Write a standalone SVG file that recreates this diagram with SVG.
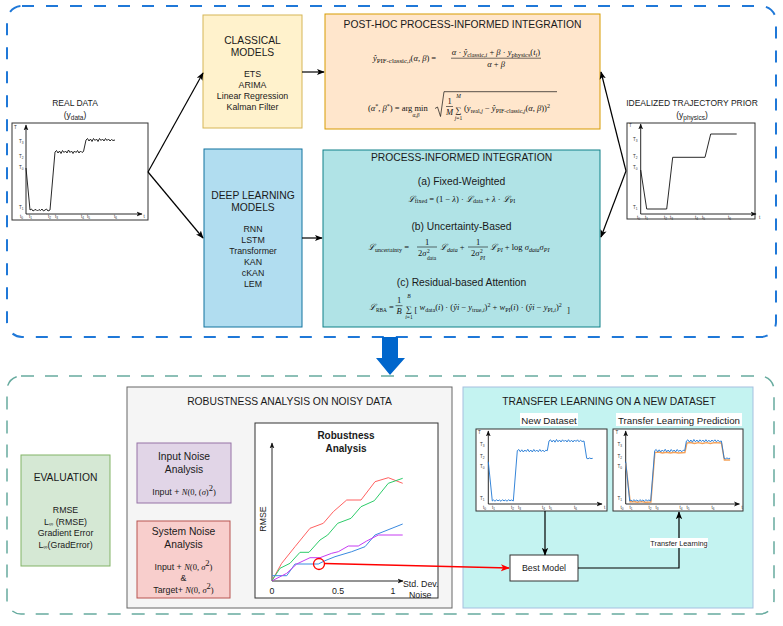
<svg xmlns="http://www.w3.org/2000/svg" width="783" height="626" viewBox="0 0 783 626">
<style>
.t{font-family:"Liberation Sans",Arial,sans-serif;fill:#1a1a1a}
.h{font-size:10.3px}
.l{font-size:8.8px}
.c{text-anchor:middle}
.m{font-family:"Liberation Serif","DejaVu Serif",serif;font-size:8.5px;fill:#111}
.i{font-style:italic}
.s{font-size:6px}
.ss{font-size:5.5px}
.tk{font-family:"Liberation Sans",Arial,sans-serif;font-size:4.5px;fill:#333}
.tks{font-size:3.2px}
.conn{fill:none;stroke:#000;stroke-width:1.2}
.ax{fill:none;stroke:#111;stroke-width:0.9}
.pbox{fill:#fff;stroke:#333;stroke-width:1}
</style>
<defs>
<marker id="ah" viewBox="0 0 10 10" refX="9" refY="5" markerWidth="8" markerHeight="8" orient="auto" markerUnits="userSpaceOnUse"><path d="M0,1 L10,5 L0,9 L2.5,5 z" fill="#000"/></marker>
<marker id="ahs" viewBox="0 0 10 10" refX="9" refY="5" markerWidth="6" markerHeight="6" orient="auto" markerUnits="userSpaceOnUse"><path d="M0,1 L10,5 L0,9 L2.5,5 z" fill="#111"/></marker>
<marker id="ahr" viewBox="0 0 10 10" refX="9" refY="5" markerWidth="9" markerHeight="9" orient="auto" markerUnits="userSpaceOnUse"><path d="M0,1 L10,5 L0,9 L2.5,5 z" fill="#f00"/></marker>
</defs>

<!-- outer dashed containers -->
<rect x="7" y="6" width="769" height="331" rx="15" fill="none" stroke="#1f78d8" stroke-width="2" stroke-dasharray="12 12"/>
<rect x="7" y="376" width="767" height="238" rx="14" fill="none" stroke="#67ab9f" stroke-width="1.5" stroke-dasharray="13 11"/>

<!-- big arrow -->
<polygon points="382,337 398,337 398,358 405,358 390,375 376,358 382,358" fill="#0066cc"/>

<!-- REAL DATA -->
<g id="real-data">
<text class="t c" x="75" y="106" font-size="8.5">REAL DATA</text>
<text class="t c" x="75" y="118" font-size="8.5">(y<tspan font-size="6.5" dy="2">data</tspan><tspan dy="-2">)</tspan></text>
<rect class="pbox" x="12" y="123" width="136" height="97"/>
<line class="ax" x1="26" y1="214" x2="26" y2="125" marker-end="url(#ahs)"/>
<line class="ax" x1="26" y1="214" x2="142" y2="214" marker-end="url(#ahs)"/>
<polyline fill="none" stroke="#111" stroke-width="0.9" points="26,168 30,210 31.5,209 33,211 34.5,210 36,209.5 37.5,211 39,209.5 40.5,210.5 42,209 43.5,211 45,210 46.5,209 48,211 50,210 55,152 56.5,150.5 58,153 59.5,151 61,153.5 62.5,150.5 64,152.5 65.5,151 67,153 68.5,150 70,152.5 71.5,151 73,153.5 74.5,151 76,152.5 77.5,150.5 79,153 80.5,151 82,152.5 83.5,151.5 86,140 87.5,138.5 89,141 90.5,139 92,141.5 93.5,138.5 95,140.5 96.5,139 98,141.5 99.5,138.5 101,140.5 102.5,139 104,141 105.5,138.5 107,140.5 108.5,139 110,141 111.5,139.5 113,140.5 115,140"/>
<text class="tk" x="14" y="129">T</text>
<text class="tk" x="19" y="143">T<tspan class="tks" dy="1">3</tspan></text>
<text class="tk" x="19" y="158">T<tspan class="tks" dy="1">2</tspan></text>
<text class="tk" x="19" y="169">T<tspan class="tks" dy="1">0</tspan></text>
<text class="tk" x="19" y="209">T<tspan class="tks" dy="1">1</tspan></text>
<text class="tk" x="20" y="218">t<tspan class="tks" dy="1">0</tspan></text>
<text class="tk" x="29" y="218">t<tspan class="tks" dy="1">1</tspan></text>
<text class="tk" x="48" y="218">t<tspan class="tks" dy="1">2</tspan></text>
<text class="tk" x="55" y="218">t<tspan class="tks" dy="1">3</tspan></text>
<text class="tk" x="81" y="218">t<tspan class="tks" dy="1">4</tspan></text>
<text class="tk" x="87" y="218">t<tspan class="tks" dy="1">5</tspan></text>
<text class="tk" x="114" y="218">t<tspan class="tks" dy="1">6</tspan></text>
<text class="tk" x="143.5" y="218">t</text>
</g>

<!-- IDEALIZED -->
<g id="idealized-prior">
<text class="t c" x="692" y="106" font-size="8.5">IDEALIZED TRAJECTORY PRIOR</text>
<text class="t c" x="692" y="118" font-size="8.5">(y<tspan font-size="6.5" dy="2">physics</tspan><tspan dy="-2">)</tspan></text>
<rect class="pbox" x="627" y="123" width="128" height="96"/>
<line class="ax" x1="640.7" y1="214" x2="640.7" y2="124" marker-end="url(#ahs)"/>
<line class="ax" x1="640.7" y1="214" x2="756" y2="214" marker-end="url(#ahs)"/>
<polyline fill="none" stroke="#111" stroke-width="0.9" points="640.7,170 646.7,209 666.7,209 672.7,157.3 705,157.3 710.7,134 736.7,134"/>
<text class="tk" x="629" y="127">T</text>
<text class="tk" x="633" y="141">T<tspan class="tks" dy="1">3</tspan></text>
<text class="tk" x="633" y="158">T<tspan class="tks" dy="1">2</tspan></text>
<text class="tk" x="633" y="169">T<tspan class="tks" dy="1">0</tspan></text>
<text class="tk" x="633" y="209">T<tspan class="tks" dy="1">1</tspan></text>
<text class="tk" x="637" y="219">t<tspan class="tks" dy="1">0</tspan></text>
<text class="tk" x="645" y="219">t<tspan class="tks" dy="1">1</tspan></text>
<text class="tk" x="664" y="219">t<tspan class="tks" dy="1">2</tspan></text>
<text class="tk" x="670" y="219">t<tspan class="tks" dy="1">3</tspan></text>
<text class="tk" x="695" y="219">t<tspan class="tks" dy="1">4</tspan></text>
<text class="tk" x="702" y="219">t<tspan class="tks" dy="1">5</tspan></text>
<text class="tk" x="728" y="219">t<tspan class="tks" dy="1">6</tspan></text>
<text class="tk" x="759" y="219">t</text>
</g>

<!-- CLASSICAL -->
<g id="classical-models">
<rect x="203" y="15" width="99" height="113" fill="#fff2cc" stroke="#d6b656"/>
<text class="t h c" x="252.5" y="44">CLASSICAL</text>
<text class="t h c" x="252.5" y="56">MODELS</text>
<text class="t l c" x="252.5" y="77">ETS</text>
<text class="t l c" x="252.5" y="88">ARIMA</text>
<text class="t l c" x="252.5" y="99">Linear Regression</text>
<text class="t l c" x="252.5" y="110">Kalman Filter</text>
</g>

<!-- DEEP LEARNING -->
<g id="deep-learning-models">
<rect x="204" y="149" width="98" height="178" fill="#b1ddf0" stroke="#10739e"/>
<text class="t h c" x="253" y="199">DEEP LEARNING</text>
<text class="t h c" x="253" y="211">MODELS</text>
<text class="t l c" x="253" y="232">RNN</text>
<text class="t l c" x="253" y="243">LSTM</text>
<text class="t l c" x="253" y="254">Transformer</text>
<text class="t l c" x="253" y="265">KAN</text>
<text class="t l c" x="253" y="276">cKAN</text>
<text class="t l c" x="253" y="287">LEM</text>
</g>

<!-- POST-HOC -->
<g id="post-hoc-pif">
<rect x="325" y="14" width="275" height="115" fill="#ffe6cc" stroke="#d79b00"/>
<text class="t h c" x="462.5" y="28">POST-HOC PROCESS-INFORMED INTEGRATION</text>
<text class="m" x="373" y="61" font-size="9.3"><tspan class="i">ŷ</tspan><tspan font-size="6.8" dy="1.8">PIF-classic,<tspan class="i">i</tspan></tspan><tspan dy="-1.8">(</tspan><tspan class="i">α</tspan>, <tspan class="i">β</tspan>) =</text>
<text class="m c" x="496" y="55" font-size="9"><tspan class="i">α</tspan> · <tspan class="i">ŷ</tspan><tspan font-size="6.3" dy="1.8">classic,<tspan class="i">i</tspan></tspan><tspan dy="-1.8"> + </tspan><tspan class="i">β</tspan> · <tspan class="i">y</tspan><tspan font-size="6.3" dy="1.8">physics</tspan><tspan dy="-1.8">(</tspan><tspan class="i">t</tspan><tspan font-size="6.3" class="i" dy="1.8">i</tspan><tspan dy="-1.8">)</tspan></text>
<line x1="451" y1="58.2" x2="541" y2="58.2" stroke="#111" stroke-width="0.6"/>
<text class="m c" x="496" y="67" font-size="9"><tspan class="i">α</tspan> + <tspan class="i">β</tspan></text>
<text class="m" x="368" y="111">(<tspan class="i">α</tspan><tspan class="s" dy="-3">*</tspan><tspan dy="3">, </tspan><tspan class="i">β</tspan><tspan class="s" dy="-3">*</tspan><tspan dy="3">) = arg min</tspan></text>
<text class="m ss c i" x="416" y="117">α,β</text>
<polyline points="435,108.5 437.5,107 440.5,116.5 444,91.7 557,91.7" fill="none" stroke="#111" stroke-width="0.7"/>
<text class="m c" x="449.5" y="104">1</text>
<line x1="446" y1="106.5" x2="453" y2="106.5" stroke="#111" stroke-width="0.6"/>
<text class="m c i" x="449.5" y="115">M</text>
<text class="m c" x="458.5" y="113" font-size="13">∑</text>
<text class="m ss c i" x="458.5" y="98">M</text>
<text class="m ss c" x="458.5" y="120"><tspan class="i">j</tspan>=1</text>
<text class="m" x="464" y="111">(<tspan class="i">y</tspan><tspan class="s" dy="1.8">real,<tspan class="i">j</tspan></tspan><tspan dy="-1.8"> − </tspan><tspan class="i">ŷ</tspan><tspan class="s" dy="1.8">PIF-classic,<tspan class="i">j</tspan></tspan><tspan dy="-1.8">(</tspan><tspan class="i">α</tspan>, <tspan class="i">β</tspan>))<tspan class="s" dy="-3.5">2</tspan></text>
</g>

<!-- PROCESS-INFORMED -->
<g id="process-informed">
<rect x="323" y="150" width="277" height="177" fill="#b0e3e6" stroke="#0e8088"/>
<text class="t h c" x="461.5" y="161">PROCESS-INFORMED INTEGRATION</text>
<text class="t h c" x="461.5" y="185">(a) Fixed-Weighted</text>
<text class="m c" x="461.5" y="201.5"><tspan class="i">ℒ</tspan><tspan class="s" dy="1.8">fixed</tspan><tspan dy="-1.8"> = (1 − </tspan><tspan class="i">λ</tspan>) · <tspan class="i">ℒ</tspan><tspan class="s" dy="1.8">data</tspan><tspan dy="-1.8"> + </tspan><tspan class="i">λ</tspan> · <tspan class="i">ℒ</tspan><tspan class="s" dy="1.8">PI</tspan></text>
<text class="t h c" x="461.5" y="230">(b) Uncertainty-Based</text>
<text class="m" x="368" y="250"><tspan class="i">ℒ</tspan><tspan class="s" dy="1.8">uncertainty</tspan><tspan dy="-1.8"> =</tspan></text>
<text class="m c" x="427" y="244.5">1</text>
<line x1="417" y1="247" x2="437" y2="247" stroke="#111" stroke-width="0.6"/>
<text class="m" x="418" y="256">2<tspan class="i">σ</tspan></text>
<text class="m ss" x="427" y="253">2</text>
<text class="m ss" x="427" y="259.5">data</text>
<text class="m" x="440" y="250"><tspan class="i">ℒ</tspan><tspan class="s i" dy="1.8">data</tspan><tspan dy="-1.8"> +</tspan></text>
<text class="m c" x="478" y="244.5">1</text>
<line x1="468" y1="247" x2="488" y2="247" stroke="#111" stroke-width="0.6"/>
<text class="m" x="471" y="256">2<tspan class="i">σ</tspan></text>
<text class="m ss" x="480" y="253">2</text>
<text class="m ss i" x="480" y="259.5">PI</text>
<text class="m" x="490" y="250"><tspan class="i">ℒ</tspan><tspan class="s i" dy="1.8">PI</tspan><tspan dy="-1.8"> + log </tspan><tspan class="i">σ</tspan><tspan class="s i" dy="1.8">data</tspan><tspan class="i" dy="-1.8">σ</tspan><tspan class="s i" dy="1.8">PI</tspan></text>
<text class="t h c" x="461.5" y="286">(c) Residual-based Attention</text>
<text class="m" x="369" y="310"><tspan class="i">ℒ</tspan><tspan font-size="5.3" dy="1.8">RBA</tspan><tspan dy="-1.8"> =</tspan></text>
<text class="m c" x="399" y="303">1</text>
<line x1="395.5" y1="305.7" x2="402.5" y2="305.7" stroke="#111" stroke-width="0.6"/>
<text class="m c i" x="399" y="314">B</text>
<text class="m c" x="409" y="312" font-size="13">∑</text>
<text class="m ss c i" x="409" y="298">B</text>
<text class="m ss c" x="409" y="319"><tspan class="i">i</tspan>=1</text>
<text class="m" x="414.5" y="313" font-size="14">[</text>
<text class="m" x="419.5" y="310"><tspan class="i">w</tspan><tspan class="s" dy="1.8">data</tspan><tspan dy="-1.8">(</tspan><tspan class="i">i</tspan>) · (<tspan class="i">ŷi</tspan> − <tspan class="i">y</tspan><tspan class="s" dy="1.8">true,<tspan class="i">i</tspan></tspan><tspan dy="-1.8">)</tspan><tspan class="s" dy="-3.5">2</tspan><tspan dy="3.5"> + </tspan><tspan class="i">w</tspan><tspan class="s" dy="1.8">PI</tspan><tspan dy="-1.8">(</tspan><tspan class="i">i</tspan>) · (<tspan class="i">ŷi</tspan> − <tspan class="i">y</tspan><tspan class="s" dy="1.8">PI,<tspan class="i">i</tspan></tspan><tspan dy="-1.8">)</tspan><tspan class="s" dy="-3.5">2</tspan></text>
<text class="m" x="567" y="313" font-size="14">]</text>
</g>

<!-- EVALUATION -->
<g id="evaluation">
<rect x="21" y="455" width="89" height="111" fill="#d5e8d4" stroke="#82b366"/>
<text class="t h c" x="65.5" y="481">EVALUATION</text>
<text class="t l c" x="65.5" y="513">RMSE</text>
<text class="t l c" x="65.5" y="524.5">L<tspan font-size="6" dy="1.5">∞</tspan><tspan dy="-1.5"> (RMSE)</tspan></text>
<text class="t l c" x="65.5" y="536">Gradient Error</text>
<text class="t l c" x="65.5" y="547.5">L<tspan font-size="6" dy="1.5">∞</tspan><tspan dy="-1.5">(GradError)</tspan></text>
</g>

<!-- ROBUSTNESS -->
<g id="robustness-analysis">
<rect x="127" y="387" width="325" height="221" fill="#f5f5f5" stroke="#666"/>
<text class="t h c" x="289.5" y="405">ROBUSTNESS ANALYSIS ON NOISY DATA</text>
</g>
<g id="input-noise">
<rect x="137" y="443" width="94" height="60" fill="#e1d5e7" stroke="#9673a6"/>
<text class="t h c" x="184" y="460">Input Noise</text>
<text class="t h c" x="184" y="473">Analysis</text>
<text class="t l c" x="184" y="495">Input + <tspan class="m i" font-size="10">N</tspan><tspan class="m" font-size="10">(0, (</tspan><tspan class="m i" font-size="10">σ</tspan><tspan class="m" font-size="10">)</tspan><tspan class="m" font-size="6.5" dy="-4">2</tspan><tspan class="m" font-size="10" dy="4">)</tspan></text>
</g>
<g id="system-noise">
<rect x="137" y="521" width="93" height="77" fill="#f8cecc" stroke="#b85450"/>
<text class="t h c" x="183.5" y="535">System Noise</text>
<text class="t h c" x="183.5" y="548">Analysis</text>
<text class="t l c" x="183.5" y="570">Input + <tspan class="m i" font-size="10">N</tspan><tspan class="m" font-size="10">(0, </tspan><tspan class="m i" font-size="10">σ</tspan><tspan class="m" font-size="6.5" dy="-4">2</tspan><tspan class="m" font-size="10" dy="4">)</tspan></text>
<text class="t l c" x="183.5" y="581">&amp;</text>
<text class="t l c" x="183.5" y="593">Target+ <tspan class="m i" font-size="10">N</tspan><tspan class="m" font-size="10">(0, </tspan><tspan class="m i" font-size="10">σ</tspan><tspan class="m" font-size="6.5" dy="-4">2</tspan><tspan class="m" font-size="10" dy="4">)</tspan></text>
</g>
<g id="robustness-plot">
<rect x="255" y="423" width="183" height="175" fill="#fff" stroke="#333"/>
<text class="t c" x="346" y="439" font-size="10" font-weight="bold">Robustness</text>
<text class="t c" x="346" y="452" font-size="10" font-weight="bold">Analysis</text>
<line class="ax" x1="272" y1="581" x2="272" y2="443" marker-end="url(#ahs)"/>
<line class="ax" x1="272" y1="581" x2="403" y2="581" marker-end="url(#ahs)"/>
<text class="t l c" transform="translate(266,519) rotate(-90)">RMSE</text>
<text class="t l c" x="272" y="594">0</text>
<text class="t l c" x="338" y="594">0.5</text>
<text class="t l c" x="393" y="594">1</text>
<text class="t l" x="403" y="587">Std. Dev.</text>
<text class="t l" x="409" y="598">Noise</text>
<polyline fill="none" stroke="#ff6161" stroke-width="1" points="272.3,580 281.7,563.3 295,546.7 310,528.3 323.3,523.3 333.3,511.7 346.7,500 361,500 375,481.7 388.3,477.7 402.7,483.3"/>
<polyline fill="none" stroke="#2ecc6a" stroke-width="1" points="272.3,580 280,568.3 290,563.3 300,552.3 309,552.3 320,540 327.7,535 337.7,523.3 351,518.3 361,506.7 374.3,500.7 388.3,483.3 402.7,478.3"/>
<polyline fill="none" stroke="#3a8ae0" stroke-width="1" points="272.3,575.7 286.7,575.7 295,564 318.3,564 325,560.7 335,556.7 351.7,551.7 365,546.7 375,535 402.7,524"/>
<polyline fill="none" stroke="#c63cf2" stroke-width="1" points="272.3,580.7 286.7,573.3 296.7,564 310,557.7 320,557.7 331.7,553.3 338.3,551.7 348.3,546 358.3,546 366.7,541 378.3,535 402.7,535"/>
<circle cx="319" cy="564" r="5.5" fill="none" stroke="#f00" stroke-width="1.3"/>
</g>

<!-- TRANSFER LEARNING -->
<g id="transfer-learning">
<rect x="463" y="387" width="290" height="221" fill="#c4f3f1" stroke="#a5c0e0"/>
<text class="t h c" x="609" y="405">TRANSFER LEARNING ON A NEW DATASET</text>
</g>
<g id="new-dataset">
<rect x="520" y="413" width="58" height="13" fill="#fff"/>
<text class="t c" x="549" y="424" font-size="9.7">New Dataset</text>
<rect class="pbox" x="476" y="429" width="131" height="82"/>
<line class="ax" x1="488.3" y1="504" x2="488.3" y2="431" marker-end="url(#ahs)"/>
<line class="ax" x1="488.3" y1="504" x2="602" y2="504" marker-end="url(#ahs)"/>
<polyline id="nd-line" fill="none" stroke="#1f77d4" stroke-width="0.9" points="488.3,461.7 492.3,501 493.5,500 495,501.2 496.5,499.8 498,500.8 499.5,500 501,501.3 502.5,499.7 504,500.9 505.5,500 507,501.2 508.5,499.8 510,500.7 511.5,500 513.3,501 517.3,450.7 518.8,449.5 520.3,451.8 521.8,449.8 523.3,452 524.8,450 526.3,451.5 527.8,449.3 529.3,451.8 530.8,450 532.3,452 533.8,449.5 535.3,451.5 536.8,450 538.3,451.8 539.8,449.5 541.3,451.5 542.8,450 544.3,451.8 545.8,450.2 547.3,450.7 549,441 550.5,439.8 552,442 553.5,440 555,442.2 556.5,439.5 558,441.8 559.5,440 561,442 562.5,439.8 564,441.5 565.5,440 567,442 568.5,439.7 570,441.8 571.5,440.2 573,442 574.5,440 576,441.5 577.5,439.8 579,441.8 580.5,440.2 582,441.5 584,441 586.7,458.3 588,458.8 589.5,458 591,458.6 592.7,458.3"/>
<text class="tk" x="478" y="434">T</text>
<text class="tk" x="480" y="446">T<tspan class="tks" dy="1">3</tspan></text>
<text class="tk" x="480" y="458">T<tspan class="tks" dy="1">2</tspan></text>
<text class="tk" x="480" y="468">T<tspan class="tks" dy="1">0</tspan></text>
<text class="tk" x="480" y="500">T<tspan class="tks" dy="1">1</tspan></text>
<text class="tk" x="483" y="509">t<tspan class="tks" dy="1">0</tspan></text>
<text class="tk" x="492" y="509">t<tspan class="tks" dy="1">1</tspan></text>
<text class="tk" x="511" y="509">t<tspan class="tks" dy="1">2</tspan></text>
<text class="tk" x="518" y="509">t<tspan class="tks" dy="1">3</tspan></text>
<text class="tk" x="542" y="509">t<tspan class="tks" dy="1">4</tspan></text>
<text class="tk" x="549" y="509">t<tspan class="tks" dy="1">5</tspan></text>
<text class="tk" x="574" y="509">t<tspan class="tks" dy="1">6</tspan></text>
<text class="tk" x="604" y="509">t</text>
</g>
<g id="tl-prediction">
<rect x="616" y="413" width="126" height="13" fill="#fff"/>
<text class="t c" x="679" y="424" font-size="9.7">Transfer Learning Prediction</text>
<rect class="pbox" x="613" y="429" width="130" height="82"/>
<g transform="translate(137.4,0)">
<line class="ax" x1="488.3" y1="504" x2="488.3" y2="431" marker-end="url(#ahs)"/>
<line class="ax" x1="488.3" y1="504" x2="602" y2="504" marker-end="url(#ahs)"/>
<polyline fill="none" stroke="#f5a25a" stroke-width="1.4" points="488.3,463 492.8,502 496,501.5 500,502.3 504,501.6 508,502.3 513.5,502 517.5,452.5 521,452 525,453 529,452.2 533,453 537,452.2 541,453 547.5,452.5 549.5,443 553,442.5 557,443.5 561,442.6 565,443.5 569,442.6 573,443.5 577,442.6 584,443 587,460 592.7,460"/>
<use href="#nd-line"/>
<text class="tk" x="478" y="434">T</text>
<text class="tk" x="480" y="446">T<tspan class="tks" dy="1">3</tspan></text>
<text class="tk" x="480" y="458">T<tspan class="tks" dy="1">2</tspan></text>
<text class="tk" x="480" y="468">T<tspan class="tks" dy="1">0</tspan></text>
<text class="tk" x="480" y="500">T<tspan class="tks" dy="1">1</tspan></text>
<text class="tk" x="483" y="509">t<tspan class="tks" dy="1">0</tspan></text>
<text class="tk" x="492" y="509">t<tspan class="tks" dy="1">1</tspan></text>
<text class="tk" x="511" y="509">t<tspan class="tks" dy="1">2</tspan></text>
<text class="tk" x="518" y="509">t<tspan class="tks" dy="1">3</tspan></text>
<text class="tk" x="542" y="509">t<tspan class="tks" dy="1">4</tspan></text>
<text class="tk" x="549" y="509">t<tspan class="tks" dy="1">5</tspan></text>
<text class="tk" x="574" y="509">t<tspan class="tks" dy="1">6</tspan></text>
<text class="tk" x="604" y="509">t</text>
</g>
</g>
<g id="best-model">
<rect x="510" y="555" width="68" height="26" fill="#fff" stroke="#333"/>
<text class="t l c" x="544" y="571">Best Model</text>
</g>

<!-- connectors -->
<g id="connectors">
<line class="conn" x1="148" y1="172" x2="203" y2="73" marker-end="url(#ah)"/>
<line class="conn" x1="148" y1="172" x2="203" y2="238" marker-end="url(#ah)"/>
<line class="conn" x1="302" y1="72" x2="324" y2="72" marker-end="url(#ah)"/>
<line class="conn" x1="302" y1="238" x2="322" y2="238" marker-end="url(#ah)"/>
<line class="conn" x1="626" y1="171" x2="601" y2="72" marker-end="url(#ah)"/>
<line class="conn" x1="626" y1="171" x2="601" y2="237" marker-end="url(#ah)"/>
<line class="conn" x1="545" y1="511" x2="545" y2="555" marker-end="url(#ah)"/>
<polyline class="conn" points="578,568 679,568 679,512" marker-end="url(#ah)"/>
<rect x="650" y="538" width="58" height="10" fill="#fff"/>
<text class="t c" x="679" y="546" font-size="7.3">Transfer Learning</text>
<line x1="324.5" y1="563.5" x2="509" y2="568" stroke="#f00" stroke-width="1.4" marker-end="url(#ahr)"/>
</g>
</svg>
